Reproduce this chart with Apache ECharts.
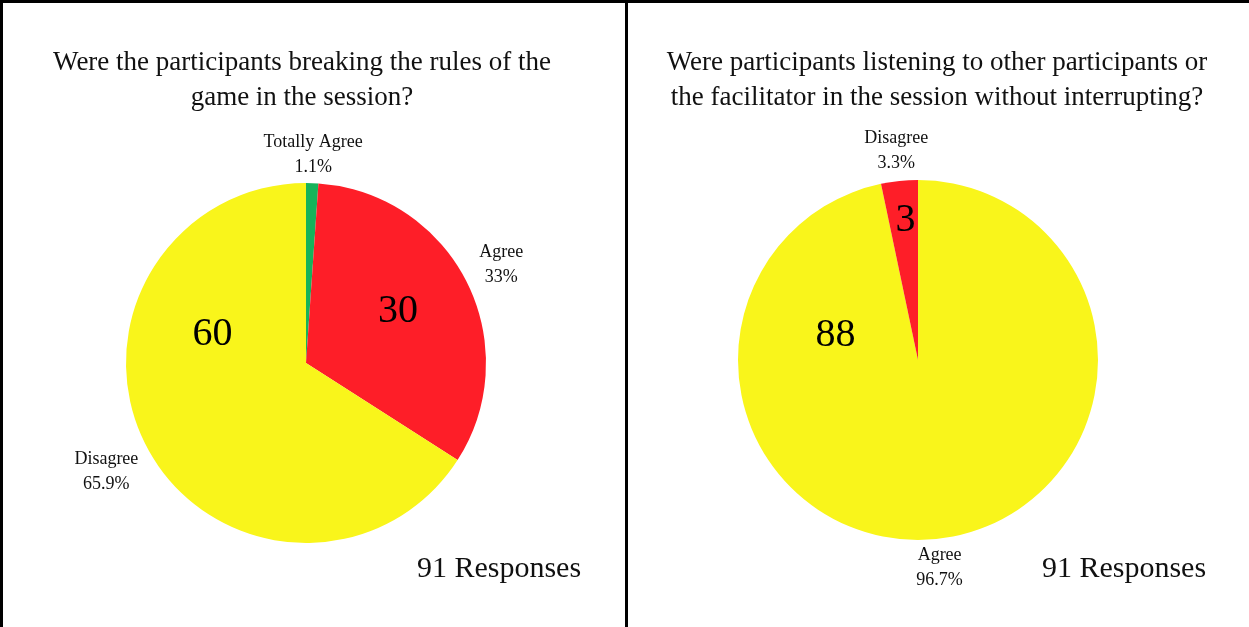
<!DOCTYPE html>
<html><head><meta charset="utf-8">
<script src="https://cdn.jsdelivr.net/npm/echarts@6/dist/echarts.min.js"></script>
<style>html,body{margin:0;padding:0;background:#fff}#c{width:1249px;height:627px}</style>
</head><body><div id="c"></div>
<script>
// ---- data ----
const leftTitle = 'Were the participants breaking the rules of the\ngame in the session?';
const leftCategories = ['Totally Agree', 'Agree', 'Disagree'];
const leftValues = [1, 30, 60];
const rightTitle = 'Were participants listening to other participants or\nthe facilitator in the session without interrupting?';
const rightCategories = ['Agree', 'Disagree'];
const rightValues = [88, 3];
const responsesText = '91 Responses';

// ---- style ----
const FONT = '"Liberation Serif", "Times New Roman", serif';
const TXT = '#111';
const GREEN = '#16B35A', RED = '#FE1E28', YELLOW = '#F9F51B';
const leftColors = [GREEN, RED, YELLOW];
const rightColors = [YELLOW, RED];
// inner value-label nudges (null = hidden)
const leftValueOffsets = [null, [9, -10], [-12, -73]];
const rightValueOffsets = [[-92, -117], [-3, -47]];

function pct(v, arr) {
  const t = arr.reduce((a, b) => a + b, 0);
  return parseFloat((v / t * 100).toFixed(1)) + '%';
}

function outerLayout(params) {
  const pts = params.labelLinePoints;
  if (!pts) return {};
  const p0 = pts[0], p1 = pts[1];
  let dx = p1[0] - p0[0], dy = p1[1] - p0[1];
  const len = Math.hypot(dx, dy) || 1; dx /= len; dy /= len;
  const w = params.labelRect.width, h = params.labelRect.height;
  const d = 8 * Math.abs(dx) + 1 * Math.abs(dy) + Math.abs(dx) * w / 2 + Math.abs(dy) * h / 2;
  return { x: p0[0] + dx * d, y: p0[1] + dy * d, align: 'center', verticalAlign: 'middle' };
}

function pieSeries(cats, vals, colors, center, offsets) {
  const base = { type: 'pie', center: center, radius: 180, startAngle: 90, clockwise: true,
    avoidLabelOverlap: false, animation: false, silent: true, emphasis: { disabled: true } };
  const a = Object.assign({}, base, {
    data: cats.map((n, i) => ({ name: n, value: vals[i], itemStyle: { color: colors[i], borderWidth: 0 },
      label: offsets[i] ? { show: true, offset: offsets[i] } : { show: false } })),
    label: { position: 'inside', formatter: '{c}', fontFamily: FONT, fontSize: 40, color: '#000' },
    labelLine: { show: false }
  });
  const b = Object.assign({}, base, {
    data: cats.map((n, i) => ({ name: n, value: vals[i] })),
    itemStyle: { color: 'rgba(0,0,0,0)', borderWidth: 0 },
    label: { position: 'outside', formatter: p => p.name + '\n' + pct(p.value, vals),
      fontFamily: FONT, fontSize: 18, lineHeight: 25, color: TXT },
    labelLine: { show: true, length: 10, length2: 5, lineStyle: { opacity: 0 } },
    labelLayout: outerLayout
  });
  return [a, b];
}

const titleStyle = { fontFamily: FONT, fontSize: 27, fontWeight: 'normal', color: TXT, lineHeight: 35 };
const respStyle = { fontFamily: FONT, fontSize: 30, fontWeight: 'normal', color: TXT, lineHeight: 34 };

const chart = echarts.init(document.getElementById('c'));
chart.setOption({
  backgroundColor: '#fff',
  animation: false,
  title: [
    { text: leftTitle, left: 302, top: 45, padding: 0, textAlign: 'center', textStyle: titleStyle },
    { text: rightTitle, left: 937, top: 45, padding: 0, textAlign: 'center', textStyle: titleStyle },
    { text: responsesText, left: 499, top: 552, padding: 0, textAlign: 'center', textStyle: respStyle },
    { text: responsesText, left: 1124, top: 552, padding: 0, textAlign: 'center', textStyle: respStyle }
  ],
  graphic: [
    { type: 'rect', shape: { x: 0, y: 0, width: 1249, height: 3 }, style: { fill: '#000' }, silent: true },
    { type: 'rect', shape: { x: 0, y: 0, width: 3, height: 627 }, style: { fill: '#000' }, silent: true },
    { type: 'rect', shape: { x: 625, y: 0, width: 3, height: 627 }, style: { fill: '#000' }, silent: true }
  ],
  series: [].concat(
    pieSeries(leftCategories, leftValues, leftColors, [306, 363], leftValueOffsets),
    pieSeries(rightCategories, rightValues, rightColors, [918, 360], rightValueOffsets)
  )
});
</script></body></html>
